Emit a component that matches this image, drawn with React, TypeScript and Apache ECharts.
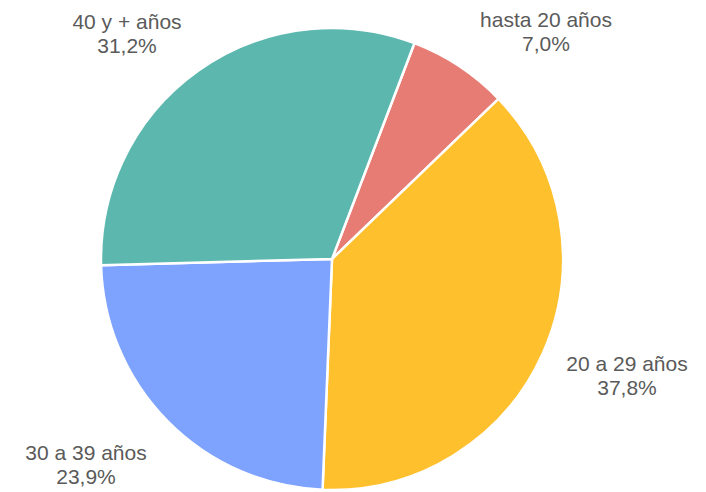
import React, { useEffect, useRef } from "react";
import * as echarts from "echarts";

const categories = ["hasta 20 años", "20 a 29 años", "30 a 39 años", "40 y + años"];
const values = [7.0, 37.8, 23.9, 31.2];
const colors = ["#E67C73", "#FFC02E", "#7EA3FF", "#5CB8AF"];
const labelAnchors: [number, number][] = [
  [546, 31],
  [627, 375],
  [86, 464],
  [127, 33],
];

export default function App() {
  const ref = useRef<HTMLDivElement>(null);
  useEffect(() => {
    if (!ref.current) return;
    const chart = echarts.init(ref.current, undefined, { renderer: "svg" });
    chart.setOption({
      animation: false,
      backgroundColor: "#ffffff",
      series: [
        {
          type: "pie",
          center: [332, 259],
          radius: 231,
          startAngle: 69.1,
          clockwise: true,
          avoidLabelOverlap: false,
          itemStyle: { borderColor: "#ffffff", borderWidth: 2.5 },
          label: {
            show: true,
            position: "outside",
            formatter: (p: any) =>
              `${p.name}\n${p.value.toFixed(1).replace(".", ",")}%`,
            fontFamily: "Liberation Sans, Arial, sans-serif",
            fontSize: 21,
            lineHeight: 24,
            color: "#5a5a5a",
            align: "center",
            overflow: "none",
            width: 300,
          },
          labelLine: { show: false },
          labelLayout: (params: any) => {
            const a = labelAnchors[params.dataIndex];
            return { x: a[0], y: a[1], align: "center", verticalAlign: "middle" };
          },
          data: categories.map((c, i) => ({
            name: c,
            value: values[i],
            itemStyle: { color: colors[i] },
          })),
        },
      ],
    });
    return () => chart.dispose();
  }, []);
  return (
    <div
      ref={ref}
      style={{ position: "fixed", left: 0, top: 0, width: 706, height: 492 }}
    />
  );
}
